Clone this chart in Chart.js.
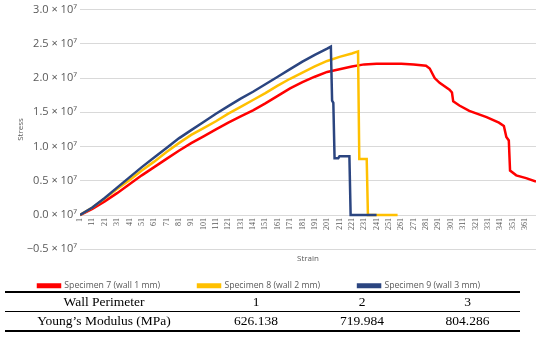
<!DOCTYPE html>
<html>
<head>
<meta charset="utf-8">
<script src="https://cdn.jsdelivr.net/npm/chart.js@4.4.1/dist/chart.umd.min.js"></script>
<style>
  html, body { margin: 0; padding: 0; background: #fff; }
  #wrap { position: relative; width: 550px; height: 355px; overflow: hidden; }
  #chart-box { position: absolute; left: 0; top: 0; width: 550px; height: 306px; }
  #modulus {
    position: absolute; left: 5px; top: 291px; width: 515px;
    border-collapse: collapse; table-layout: fixed;
    font-family: "Liberation Serif", serif; font-size: 13.5px; color: #000;
    border-top: 2px solid #000; border-bottom: 2px solid #000;
  }
  #modulus td { padding: 0; height: 18px; line-height: 18px; text-align: center; }
  #modulus tr:first-child td { border-bottom: 1px solid #000; }
</style>
</head>
<body>
<div id="wrap">
  <div id="chart-box"><canvas id="stress-chart"></canvas></div>
  <table id="modulus">
    <colgroup><col style="width:198px"><col style="width:106px"><col style="width:106px"><col style="width:105px"></colgroup>
    <tr><td>Wall Perimeter</td><td>1</td><td>2</td><td>3</td></tr>
    <tr><td>Young’s Modulus (MPa)</td><td>626.138</td><td>719.984</td><td>804.286</td></tr>
  </table>
</div>
<script>
// values (stress in Pa)
const strainTicks = [1, 11, 21, 31, 41, 51, 61, 71, 81, 91, 101, 111, 121, 131, 141, 151, 161, 171, 181,
  191, 201, 211, 221, 231, 241, 251, 261, 271, 281, 291, 301, 311, 321, 331, 341, 351, 361];

// Specimen 7 (wall 1 mm)
const strain7 = [1, 11, 21, 31, 41, 51, 61, 71, 81, 91, 101, 111, 121, 131, 141, 151, 161, 171, 181, 191,
  201, 211, 221, 231, 241, 251, 261, 271, 281, 284, 288, 292, 300, 302, 303, 308, 316, 330, 340, 344,
  346, 348, 349, 354, 362, 370];
const stress7 = [0, 0.09e7, 0.20e7, 0.32e7, 0.45e7, 0.58e7, 0.70e7, 0.82e7, 0.94e7, 1.05e7, 1.15e7,
  1.25e7, 1.35e7, 1.44e7, 1.53e7, 1.63e7, 1.74e7, 1.85e7, 1.94e7, 2.02e7, 2.09e7, 2.13e7, 2.17e7,
  2.20e7, 2.21e7, 2.21e7, 2.21e7, 2.20e7, 2.18e7, 2.14e7, 2.00e7, 1.93e7, 1.83e7, 1.79e7, 1.66e7,
  1.60e7, 1.52e7, 1.43e7, 1.35e7, 1.30e7, 1.14e7, 1.09e7, 0.65e7, 0.58e7, 0.54e7, 0.49e7];

// Specimen 8 (wall 2 mm)
const strain8 = [1, 11, 21, 31, 41, 51, 61, 71, 81, 91, 101, 111, 121, 131, 141, 151, 161, 171, 181, 191,
  201, 211, 221, 226, 227, 233, 234, 258];
const stress8 = [0, 0.11e7, 0.24e7, 0.38e7, 0.51e7, 0.65e7, 0.78e7, 0.92e7, 1.05e7, 1.17e7, 1.27e7,
  1.37e7, 1.48e7, 1.58e7, 1.68e7, 1.78e7, 1.89e7, 1.99e7, 2.08e7, 2.17e7, 2.25e7, 2.31e7, 2.36e7,
  2.39e7, 0.82e7, 0.82e7, 0, 0];

// Specimen 9 (wall 3 mm)
const strain9 = [1, 11, 21, 31, 41, 51, 61, 71, 81, 91, 101, 111, 121, 131, 141, 151, 161, 171, 181, 191,
  201, 204, 205, 206, 207, 210, 211, 219, 220, 241];
const stress9 = [0, 0.11e7, 0.25e7, 0.40e7, 0.55e7, 0.70e7, 0.84e7, 0.98e7, 1.12e7, 1.24e7, 1.36e7,
  1.48e7, 1.59e7, 1.70e7, 1.80e7, 1.91e7, 2.02e7, 2.13e7, 2.24e7, 2.34e7, 2.43e7, 2.46e7, 1.67e7,
  1.64e7, 0.83e7, 0.83e7, 0.86e7, 0.86e7, 0, 0];

const seriesNames = ["Specimen 7 (wall 1 mm)", "Specimen 8 (wall 2 mm)", "Specimen 9 (wall 3 mm)"];
const seriesColors = ["#ff0000", "#ffc000", "#2b4580"];

function toPoints(xs, ys) {
  return xs.map((x, i) => ({ x: x, y: ys[i] }));
}

const gray = "#595959";

// legend padding also pushes it down, so lift it a few pixels after layout
const liftLegend = {
  id: "liftLegend",
  afterLayout(chart) {
    chart.legend.top -= 6;
    chart.legend.bottom -= 6;
  },
};

new Chart(document.getElementById("stress-chart"), {
  type: "line",
  data: {
    datasets: [
      { label: seriesNames[0], data: toPoints(strain7, stress7), borderColor: seriesColors[0], backgroundColor: seriesColors[0], order: 3 },
      { label: seriesNames[1], data: toPoints(strain8, stress8), borderColor: seriesColors[1], backgroundColor: seriesColors[1], order: 2 },
      { label: seriesNames[2], data: toPoints(strain9, stress9), borderColor: seriesColors[2], backgroundColor: seriesColors[2], order: 1 },
    ],
  },
  plugins: [liftLegend],
  options: {
    responsive: true,
    maintainAspectRatio: false,
    animation: false,
    elements: {
      point: { radius: 0 },
      line: { borderWidth: 2.5, tension: 0 },
    },
    layout: { padding: { top: 9, right: 14, left: 0, bottom: 0 } },
    plugins: {
      tooltip: { enabled: false },
      legend: {
        position: "bottom",
        align: "start",
        labels: {
          boxWidth: 22,
          boxHeight: 2.5,
          padding: 38,
          color: gray,
          font: { family: "Open Sans", size: 8.7 },
          sort: (a, b) => a.datasetIndex - b.datasetIndex,
        },
      },
    },
    scales: {
      x: {
        type: "linear",
        position: { y: 0 },
        min: 1,
        max: 370,
        afterBuildTicks: (axis) => {
          axis.ticks = strainTicks.map((v) => ({ value: v }));
        },
        ticks: {
          autoSkip: false,
          maxRotation: 90,
          minRotation: 90,
          padding: 3,
          color: gray,
          font: { family: "Liberation Serif", size: 8 },
        },
        grid: { display: false, drawTicks: false },
        border: { display: false },
        title: {
          display: true,
          text: "Strain",
          color: gray,
          font: { family: "Open Sans", size: 8 },
          padding: { top: 21, bottom: 0 },
        },
      },
      y: {
        min: -0.5e7,
        max: 3.0e7,
        afterFit: (axis) => {
          axis.width = 80;
        },
        ticks: {
          stepSize: 0.5e7,
          padding: 3,
          color: gray,
          font: { family: "Open Sans", size: 11 },
          callback: (v) => (v < 0 ? "\u2212" : "") + Math.abs(v / 1e7).toFixed(1) + " \u00d7 10\u2077",
        },
        grid: { color: "#d9d9d9", drawTicks: false },
        border: { display: false },
        title: {
          display: true,
          text: "Stress",
          color: gray,
          font: { family: "Open Sans", size: 8 },
          padding: { top: 16, bottom: 0 },
        },
      },
    },
  },
});
</script>
</body>
</html>
